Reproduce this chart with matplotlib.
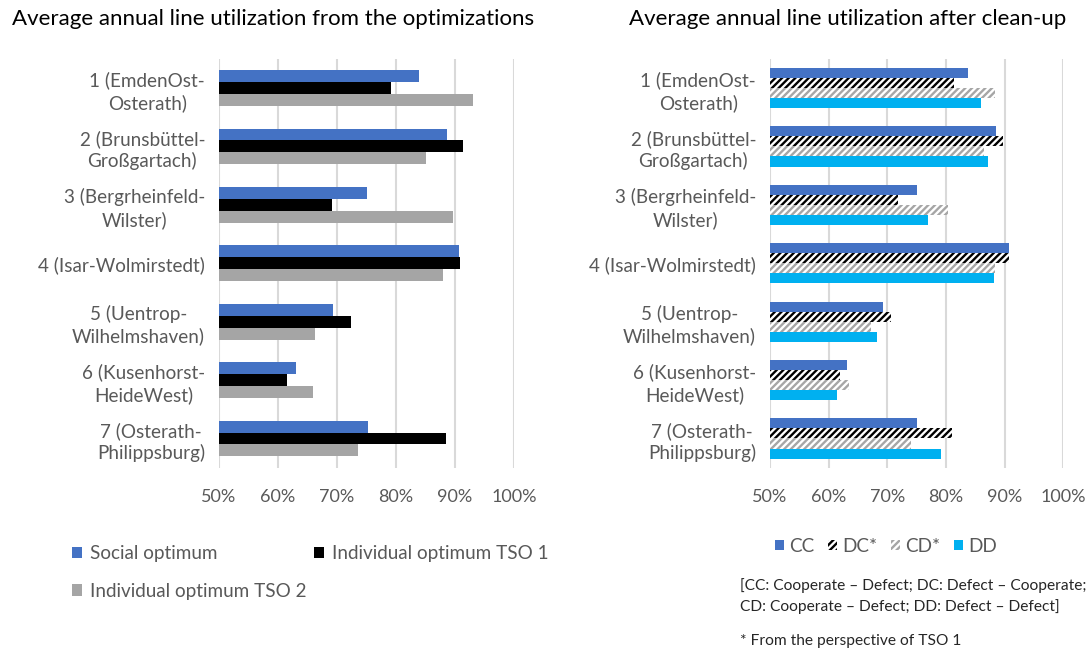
import matplotlib
matplotlib.use("Agg")
import matplotlib.pyplot as plt
from matplotlib.ticker import FuncFormatter

plt.rcParams['font.family'] = ['Lato', 'DejaVu Sans']
plt.rcParams['hatch.linewidth'] = 1.7

# ---- data ----
categories = [
    "1 (EmdenOst-\nOsterath)",
    "2 (Brunsbüttel-\nGroßgartach)",
    "3 (Bergrheinfeld-\nWilster)",
    "4 (Isar-Wolmirstedt)",
    "5 (Uentrop-\nWilhelmshaven)",
    "6 (Kusenhorst-\nHeideWest)",
    "7 (Osterath-\nPhilippsburg)",
]
social_optimum = [0.839, 0.886, 0.751, 0.907, 0.693, 0.631, 0.752]
individual_tso1 = [0.792, 0.914, 0.692, 0.908, 0.724, 0.616, 0.884]
individual_tso2 = [0.930, 0.851, 0.897, 0.880, 0.663, 0.659, 0.736]

cc = [0.838, 0.886, 0.751, 0.907, 0.692, 0.631, 0.751]
dc = [0.813, 0.898, 0.719, 0.907, 0.706, 0.620, 0.811]
cd = [0.884, 0.864, 0.804, 0.884, 0.672, 0.634, 0.741]
dd = [0.859, 0.871, 0.769, 0.882, 0.683, 0.614, 0.791]

x_ticks = [0.5, 0.6, 0.7, 0.8, 0.9, 1.0]

left_series = [
    ("Social optimum", social_optimum, dict(color="#4472C4")),
    ("Individual optimum TSO 1", individual_tso1, dict(color="#000000")),
    ("Individual optimum TSO 2", individual_tso2, dict(color="#A5A5A5")),
]
right_series = [
    ("CC", cc, dict(facecolor="#4472C4", edgecolor="#4472C4")),
    ("DC*", dc, dict(facecolor="white", edgecolor="#000000", hatch="/////")),
    ("CD*", cd, dict(facecolor="white", edgecolor="#A6A6A6", hatch="/////")),
    ("DD", dd, dict(facecolor="#00B0F0", edgecolor="#00B0F0")),
]

W, H = 1090, 652
fig = plt.figure(figsize=(W / 100, H / 100), dpi=100)

label_color = "#595959"
grid_color = "#D9D9D9"


def make_axes(left_px, right_px):
    top_px, bottom_px = 58.8, 467.7
    return fig.add_axes([left_px / W, 1 - bottom_px / H,
                         (right_px - left_px) / W, (bottom_px - top_px) / H])


def style_axes(ax):
    ax.set_xlim(0.5, 1.0)
    ax.set_ylim(len(categories) - 0.5, -0.5)
    ax.set_xticks(x_ticks)
    ax.xaxis.set_major_formatter(FuncFormatter(lambda v, p: f"{v*100:.0f}%"))
    ax.set_yticks(range(len(categories)))
    ax.set_yticklabels(categories, multialignment="center", linespacing=1.3, fontsize=13.6)
    ax.tick_params(axis="both", length=0, labelcolor=label_color)
    ax.tick_params(axis="x", labelsize=13, pad=15)
    ax.tick_params(axis="y", pad=10)
    for s in ax.spines.values():
        s.set_visible(False)
    ax.grid(axis="x", color=grid_color, linewidth=1.5)
    ax.set_axisbelow(True)


def draw_bars(ax, series, h):
    n = len(series)
    handles = []
    for j, (name, vals, style) in enumerate(series):
        ys = [i + (j - (n - 1) / 2) * h for i in range(len(categories))]
        widths = [v - 0.5 for v in vals]
        bars = ax.barh(ys, widths, left=0.5, height=h, linewidth=0, label=name, **style)
        handles.append(bars)
    return handles


axL = make_axes(219, 514)
style_axes(axL)
hL = draw_bars(axL, left_series, 0.204)

axR = make_axes(770, 1063.3)
style_axes(axR)
hR = draw_bars(axR, right_series, 0.172)

fig.text(273 / W, 1 - 19 / H, "Average annual line utilization from the optimizations",
         ha="center", va="center", fontsize=16, color="#000000")
fig.text(848 / W, 1 - 19 / H, "Average annual line utilization after clean-up",
         ha="center", va="center", fontsize=16, color="#000000")

# left legend (row-wise order via column-major filling)
fig.legend([hL[0], hL[2], hL[1]],
           [left_series[0][0], left_series[2][0], left_series[1][0]],
           ncol=2, loc="upper left", bbox_to_anchor=(72 / W, 1 - 545 / H),
           frameon=False, fontsize=13.6, labelcolor=label_color,
           borderpad=0, borderaxespad=0,
           handlelength=0.55, handleheight=0.55, handletextpad=0.4,
           columnspacing=0.4, labelspacing=1.1)

# right legend
fig.legend(hR, [s[0] for s in right_series], ncol=4, loc="upper left",
           bbox_to_anchor=(775 / W, 1 - 538 / H), frameon=False,
           fontsize=13.6, labelcolor=label_color,
           borderpad=0, borderaxespad=0,
           handlelength=0.47, handleheight=0.47, handletextpad=0.3,
           columnspacing=0.7)

note_color = "#262626"
fig.text(740 / W, 1 - 586 / H, "[CC: Cooperate – Defect; DC: Defect – Cooperate;",
         ha="left", va="center", fontsize=11.2, color=note_color)
fig.text(740 / W, 1 - 607 / H, "CD: Cooperate – Defect; DD: Defect – Defect]",
         ha="left", va="center", fontsize=11.2, color=note_color)
fig.text(740 / W, 1 - 641 / H, "* From the perspective of TSO 1",
         ha="left", va="center", fontsize=11.2, color=note_color)

fig.savefig("out.png", dpi=100, facecolor="white")
